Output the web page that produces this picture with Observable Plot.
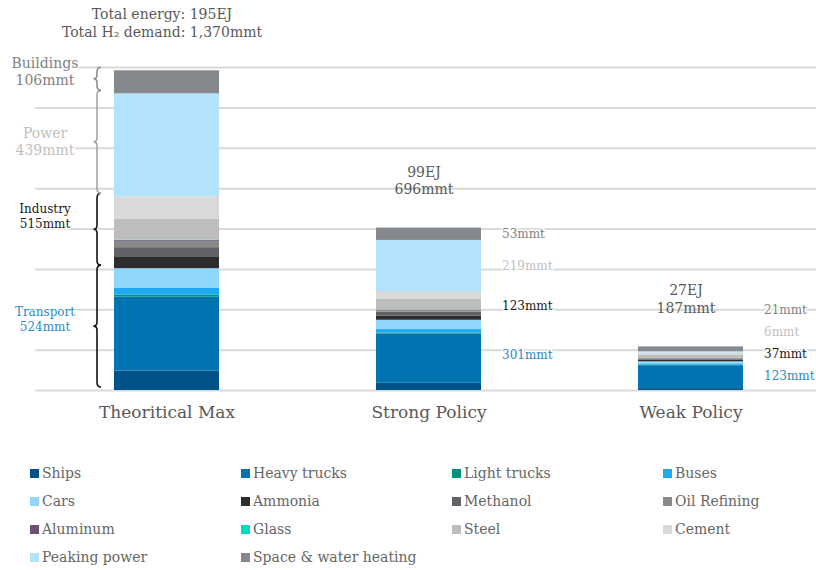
<!DOCTYPE html>
<html><head><meta charset="utf-8">
<script src="https://cdn.jsdelivr.net/npm/d3@7"></script>
<script src="https://cdn.jsdelivr.net/npm/@observablehq/plot@0.6"></script>
<style>
body{margin:0;background:#fff;font-family:"DejaVu Serif",serif;}
#legend{display:grid;grid-template-columns:repeat(4,211px);padding:9px 0 0 30px;}
.item{height:28px;display:flex;align-items:center;font-size:14px;color:#666;white-space:nowrap;}
.sw{width:9px;height:9px;margin-right:3px;flex:none;}
</style></head><body><div id="chart"></div><div id="legend"></div>
<script>
const categories = ["Theoritical Max", "Strong Policy", "Weak Policy"];
const series = ["Ships", "Heavy trucks", "Light trucks", "Buses", "Cars", "Ammonia", "Methanol", "Oil Refining", "Aluminum", "Glass", "Steel", "Cement", "Peaking power", "Space & water heating"];
const colors = ["#005288", "#0073b0", "#00927c", "#1eaaf1", "#8fd8fb", "#2d2d2d", "#616166", "#8a8a8a", "#6b5173", "#00dcc4", "#bdbdbd", "#d9d9d9", "#b3e2fd", "#85888c"];
const seriesSector = ["Transport", "Transport", "Transport", "Transport", "Transport", "Industry", "Industry", "Industry", "Industry", "Industry", "Industry", "Industry", "Power", "Buildings"];
const theoreticalMax = [83, 317, 9, 30, 83, 51, 39, 24, 6, 2, 90, 96, 441, 99];
const strongPolicy = [31, 211, 4, 15, 40, 18, 17, 6, 2, 1, 45, 34, 219, 53];
const weakPolicy = [8, 98, 2, 6, 9, 7, 4, 3, 1, 0, 12, 10, 6, 21];
const energyEJ = [195, 99, 27];
const totalMmt = ["1,370", "696", "187"];
const sectors = ["Transport", "Industry", "Power", "Buildings"];
const theoreticalSectorLabels = [524, 515, 439, 106];
const strongSectorLabels = [301, 123, 219, 53];
const weakSectorLabels = [123, 37, 6, 21];
const sectorTextColors = ["#2b8ac4", "#1a1a1a", "#bfbfbf", "#7f7f7f"];
const braceColors = ["#111111", "#111111", "#a6a6a6", "#8c8c8c"];
const gridTicks = [0, 173, 346, 519, 692, 865, 1038, 1211, 1384];

const values = [theoreticalMax, strongPolicy, weakPolicy];
const sectorLabels = [theoreticalSectorLabels, strongSectorLabels, weakSectorLabels];
const rows = [];
categories.forEach((c, i) => series.forEach((s, j) => rows.push({cat: c, series: s, value: values[i][j]})));

// sector extents (data units) per category
const ext = values.map(v => {
  let acc = 0;
  return sectors.map(sec => {
    const start = acc;
    v.forEach((val, j) => { if (seriesSector[j] === sec) acc += val; });
    return {sector: sec, start, end: acc};
  });
});

function addText(g, x, y, lines, opts) {
  const t = g.append("text").attr("x", x).attr("y", y)
    .attr("text-anchor", opts.anchor || "middle")
    .attr("font-size", opts.size).attr("fill", opts.fill)
    .attr("stroke", "white").attr("stroke-width", 3).attr("paint-order", "stroke")
    .attr("stroke-linejoin", "round");
  const lh = opts.size * 1.25;
  const y0 = -(lines.length - 1) * lh / 2;
  lines.forEach((ln, k) => t.append("tspan").attr("x", x).attr("y", y + y0 + k * lh).attr("dy", "0.35em").text(ln));
}

const annotations = (index, scales) => {
  const sx = scales.x, sy = scales.y;
  const step = sx(categories[1]) - sx(categories[0]);
  const bw = typeof sx.bandwidth === "function" ? sx.bandwidth() : (sx.bandwidth ?? step * 0.4);
  const g = d3.create("svg:g").attr("font-family", "DejaVu Serif, serif");
  // braces + left labels for first bar
  const bx = sx(categories[0]) - 17;
  ext[0].forEach((s, k) => {
    const y1 = sy(s.end) - 3, y2 = sy(s.start) - 3, ym = (y1 + y2) / 2;
    g.append("path").attr("fill", "none").attr("stroke", braceColors[k]).attr("stroke-width", 1.6)
      .attr("d", `M${bx + 4},${y1} Q${bx},${y1} ${bx},${y1 + 5} L${bx},${ym - 4} Q${bx},${ym} ${bx - 3.5},${ym} Q${bx},${ym} ${bx},${ym + 4} L${bx},${y2 - 5} Q${bx},${y2} ${bx + 4},${y2}`);
    const big = k >= 2;
    addText(g, bx - 52, ym - (k === 1 ? 13 : k === 2 ? 0 : 7), [s.sector, sectorLabels[0][k] + "mmt"], {size: big ? 14 : 12, fill: sectorTextColors[k]});
  });
  // right labels for other bars
  [1, 2].forEach(i => {
    const lx = sx(categories[i]) + bw + 21;
    let prev = Infinity;
    ext[i].forEach((s, k) => {
      const mid = sy((s.start + s.end) / 2);
      const ly = Math.min(mid, prev - 22);
      prev = ly;
      addText(g, lx, ly, [sectorLabels[i][k] + "mmt"], {size: 12, fill: sectorTextColors[k], anchor: "start"});
    });
  });
  return g.node();
};

const topText = categories.map((c, i) => ({
  cat: c, total: d3.sum(values[i]),
  text: i === 0 ? `Total energy: ${energyEJ[i]}EJ\nTotal H₂ demand: ${totalMmt[i]}mmt` : `${energyEJ[i]}EJ\n${totalMmt[i]}mmt`
}));

const chart = Plot.plot({
  width: 816, height: 450,
  marginLeft: 35, marginRight: 0, marginTop: 0, marginBottom: 60,
  style: {fontFamily: "DejaVu Serif, serif", background: "white", overflow: "visible"},
  x: {type: "band", domain: categories, range: [35, 821], paddingInner: 0.6, paddingOuter: 0.3, axis: null},
  y: {domain: [0, 1384], range: [390, 67], axis: null},
  color: {domain: series, range: colors},
  marks: [
    Plot.ruleY(gridTicks, {stroke: "#d9d9d9", strokeWidth: 2}),
    Plot.barY(rows, {x: "cat", y: "value", fill: "series", inset: 0}),
    Plot.text(topText, {x: "cat", y: "total", text: "text", lineAnchor: "bottom", dy: -34, dx: -5, fontSize: 14, fill: "#595959", lineHeight: 1.25}),
    Plot.text(categories, {x: d => d, frameAnchor: "bottom", dy: 27, fontSize: 17, fill: "#595959"}),
    annotations
  ]
});
document.getElementById("chart").appendChild(chart);

const legend = document.getElementById("legend");
series.forEach((s, j) => {
  const it = document.createElement("div"); it.className = "item";
  const sw = document.createElement("span"); sw.className = "sw"; sw.style.background = colors[j];
  it.appendChild(sw); it.appendChild(document.createTextNode(s));
  legend.appendChild(it);
});
</script></body></html>
